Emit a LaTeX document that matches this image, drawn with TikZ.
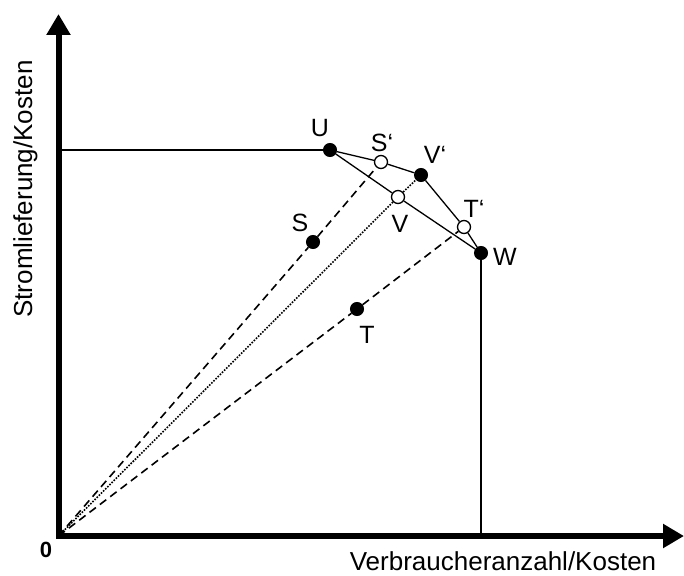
\documentclass[tikz,border=0pt]{standalone}
\usepackage{fontspec}
\setmainfont{Liberation Sans}
\usetikzlibrary{arrows.meta}

\begin{document}
\begin{tikzpicture}[x=1pt, y=-1pt, font=\fontsize{25}{27}\selectfont,
  every node/.style={inner sep=0pt},
  full/.style={circle, fill=black, draw=black, line width=1pt, minimum size=13pt},
  hollow/.style={circle, fill=white, draw=black, line width=1.3pt, minimum size=13pt},
  axis/.style={line width=6pt, {Triangle[length=21pt,width=23pt]}-{Triangle[length=21pt,width=23pt]}},
  edge/.style={line width=1.3pt},
  ray/.style={line width=1.6pt, dash pattern=on 8pt off 5pt},
  mid ray/.style={line width=1.6pt, dash pattern=on 1.6pt off 1.4pt},
  axis label/.style={font=\fontsize{26}{28}\selectfont, anchor=base}]
\useasboundingbox (0,0) rectangle (684,575);
% --- axes ---
\coordinate (O) at (58.5,536);
\coordinate (ytop) at (58.5,14);
\coordinate (xend) at (684,536);
\draw[axis] (ytop) -- (O) -- (xend);
\node[anchor=base] (zero) at (46,557) {\fontsize{22}{24}\selectfont\bfseries 0};
\node[axis label] (xlab) at (503,570) {Verbraucheranzahl/Kosten};
\node[axis label, rotate=90] (ylab) at (32,189) {Stromlieferung/Kosten};
% --- points ---
\node[full] (U) at (330,150) {};
\node[hollow] (Sp) at (381,162) {};
\node[full] (Vp) at (421,175) {};
\node[hollow] (V) at (398,197) {};
\node[hollow] (Tp) at (464,227) {};
\node[full] (W) at (481,253) {};
\node[full] (S) at (313,242) {};
\node[full] (T) at (357,309) {};
\coordinate (yU) at (58.5,150);
\coordinate (xW) at (481,536);
% --- boundary ---
\draw[edge] (yU) -- (U);
\draw[edge] (W) -- (xW);
\draw[edge] (U) -- (Sp) -- (Vp) -- (Tp) -- (W);
\draw[edge] (U) -- (V) -- (W);
% --- rays from origin ---
\draw[ray] (O) -- (S) -- (Sp);
\draw[ray] (O) -- (T) -- (Tp);
\draw[mid ray] (O) -- (V) -- (Vp);
% --- labels ---
\foreach \n/\x/\y/\t in {U/320/128/U, Sp/382/143/S‘, Vp/435/155/V‘, V/400/224/V,
  Tp/474/209/T‘, W/505/257/W, S/300/223/S, T/367/335/T}
  \node (l\n) at (\x,\y) {\t};
\end{tikzpicture}
\end{document}
